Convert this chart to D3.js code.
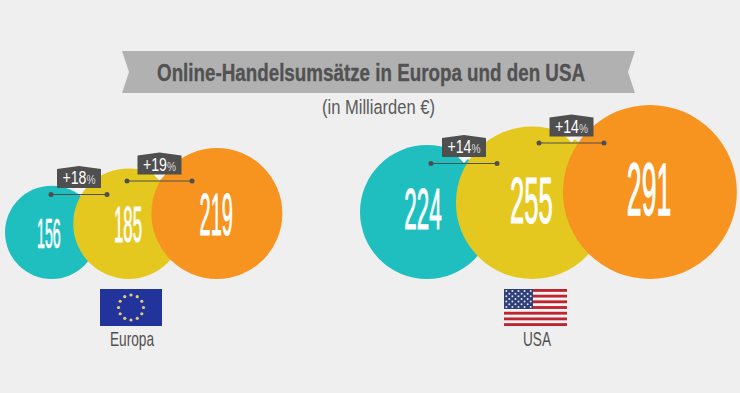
<!DOCTYPE html>
<html>
<head>
<meta charset="utf-8">
<script src="https://cdn.jsdelivr.net/npm/d3@7"></script>
<style>
  html, body { margin: 0; padding: 0; background: #efefef; }
  text { font-family: "Liberation Sans Narrow", "Liberation Sans", sans-serif; }
</style>
</head>
<body>
<div id="chart"></div>
<script>
const regions = ["Europa", "USA"];
const europeValues = [156, 185, 219];
const usaValues = [224, 255, 291];
const europeGrowth = ["+18", "+19"];
const usaGrowth = ["+14", "+14"];
const bubbleColors = ["#1fbfc0", "#e5c81f", "#f79420"];

const width = 740, height = 393;
const baseline = 279;

const svg = d3.select("#chart").append("svg")
    .attr("width", width)
    .attr("height", height)
    .attr("viewBox", [0, 0, width, height]);

svg.append("rect").attr("width", width).attr("height", height).attr("fill", "#efefef");

// radius is linear in the value in the original, not by area
const rScale = d3.scaleLinear().domain([0, 291]).range([0, 87]);

// stretched text, the original uses a tall condensed face.
// measures the text and squeezes it to textWidth
function tallText(g, str, cx, top, capHeight, textWidth, fill, weight, suffix) {
    const t = g.append("text")
        .attr("font-size", capHeight / 0.72)
        .attr("font-weight", weight || "normal")
        .attr("fill", fill)
        .text(str);
    if (suffix) {
        t.append("tspan")
            .attr("font-size", capHeight / 0.72 * 0.72)
            .attr("fill", "#dedede")
            .text(suffix);
    }
    const natural = t.node().getComputedTextLength();
    t.attr("x", -natural / 2)
        .attr("transform", `translate(${cx},${top + capHeight}) scale(${textWidth / natural},1)`);
    return t;
}

// title ribbon
svg.append("path")
    .attr("d", "M122,51 H635 L628,72 L635,93 H122 L129,72 Z")
    .attr("fill", "#b1b1b1");
tallText(svg, "Online-Handelsumsätze in Europa und den USA", 371, 63.5, 17.5, 428, "#525252", "bold")
    .attr("stroke", "#525252")
    .attr("stroke-width", 0.35);
tallText(svg, "(in Milliarden €)", 378.5, 100, 14, 113, "#5a5a5a");

// bubbles are bottom aligned and overlap each other
function layoutBubbles(values, left, overlaps) {
    var x = left;
    return values.map(function(v, i) {
        const r = rScale(v);
        if (i > 0) x -= overlaps[i - 1];
        const d = { value: v, r: r, cx: x + r, cy: baseline - r, color: bubbleColors[i] };
        x += 2 * r;
        return d;
    });
}

function drawBubbles(values, left, overlaps, rise, cap) {
    const bubbles = layoutBubbles(values, left, overlaps);
    const g = svg.append("g");
    g.selectAll("circle")
        .data(bubbles)
        .enter()
        .append("circle")
        .attr("cx", d => d.cx)
        .attr("cy", d => d.cy)
        .attr("r", d => d.r)
        .attr("fill", d => d.color);
    bubbles.forEach(function(d, i) {
        // the 1 is narrow in the original face, digits here are tabular
        const w = String(d.value).includes("1") ? 0.51 : 0.56;
        const shift = i === 0 ? 0.06 : 0.01;
        tallText(g, d.value, d.cx - d.r * shift, d.cy - d.r * rise, d.r * cap, d.r * w, "#ffffff")
            .attr("stroke", "#ffffff")
            .attr("stroke-width", d.r * 0.015);
    });
    return bubbles;
}

const europeBubbles = drawBubbles(europeValues, 5, [25, 32.5], 0.32, 0.65);
const usaBubbles = drawBubbles(usaValues, 360, [38, 45.5], 0.36, 0.62);

// growth badge with connector between two bubbles
function drawGrowth(label, x1, x2, lineY) {
    const g = svg.append("g");
    const cx = (x1 + x2) / 2;
    const bw = 44, bh = 22, top = lineY - 28.5;
    g.append("path")
        .attr("d", `M${cx - 6},${top + bh} H${cx + 6} L${cx},${top + bh + 6} Z`)
        .attr("fill", "#f6f6f6");
    g.append("path")
        .attr("d", `M${cx - bw / 2},${top + 3} L${cx},${top} L${cx + bw / 2},${top + 3} V${top + bh} H${cx - bw / 2} Z`)
        .attr("fill", "#4f4f4f");
    tallText(g, label, cx, top + 5, 13, 33, "#ffffff", "normal", "%");
    g.append("line")
        .attr("x1", x1).attr("x2", x2)
        .attr("y1", lineY).attr("y2", lineY)
        .attr("stroke", "#4f4f4f").attr("stroke-width", 1.2);
    g.selectAll("circle")
        .data([x1, x2])
        .enter()
        .append("circle")
        .attr("cx", d => d)
        .attr("cy", lineY)
        .attr("r", 2.5)
        .attr("fill", "#4f4f4f");
}

drawGrowth(europeGrowth[0], 51, 107, 194.5);
drawGrowth(europeGrowth[1], 127, 192, 181);
drawGrowth(usaGrowth[0], 431, 497, 163.5);
drawGrowth(usaGrowth[1], 539, 604, 143);

// EU flag
function drawEuFlag(x, y, w, h) {
    const g = svg.append("g").attr("transform", `translate(${x},${y})`);
    g.append("rect").attr("width", w).attr("height", h).attr("fill", "#22339b");
    g.selectAll("circle")
        .data(d3.range(12))
        .enter()
        .append("circle")
        .attr("cx", d => w / 2 + 12.5 * Math.sin(d * Math.PI / 6))
        .attr("cy", d => h / 2 - 12.5 * Math.cos(d * Math.PI / 6))
        .attr("r", 1.6)
        .attr("fill", "#e3cf78");
}

// US flag
function drawUsFlag(x, y, w, h) {
    const g = svg.append("g").attr("transform", `translate(${x},${y})`);
    const stripe = h / 13;
    g.append("rect").attr("width", w).attr("height", h).attr("fill", "#f4f4f4");
    g.selectAll("rect.stripe")
        .data(d3.range(0, 13, 2))
        .enter()
        .append("rect")
        .attr("class", "stripe")
        .attr("y", d => d * stripe)
        .attr("width", w)
        .attr("height", stripe)
        .attr("fill", "#bd2430");
    const cw = w * 0.46, ch = stripe * 7;
    g.append("rect").attr("width", cw).attr("height", ch).attr("fill", "#2f3f78");
    const stars = [];
    for (var row = 0; row < 7; row++) {
        for (var col = 0; col < 9; col++) {
            if ((row + col) % 2 === 0) stars.push([(col + 0.75) * cw / 9.5, (row + 0.75) * ch / 7.5]);
        }
    }
    g.selectAll("circle")
        .data(stars)
        .enter()
        .append("circle")
        .attr("cx", d => d[0])
        .attr("cy", d => d[1])
        .attr("r", 1)
        .attr("fill", "#dfe3ee");
}

drawEuFlag(100, 289, 62, 37);
drawUsFlag(504, 289, 63, 37);

tallText(svg, regions[0], 132, 331.5, 14.5, 44, "#505050");
tallText(svg, regions[1], 537, 331, 15, 28, "#505050");
</script>
</body>
</html>
